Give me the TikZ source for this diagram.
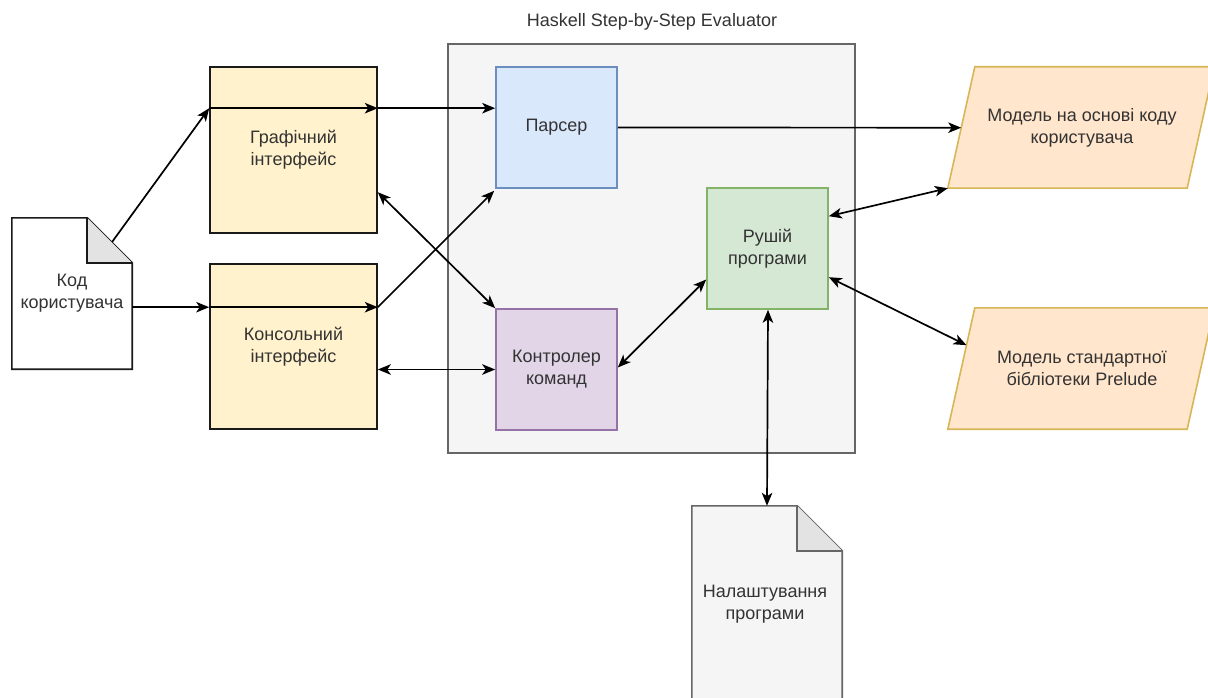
\documentclass[tikz,border=0pt]{standalone}
\usepackage{fontspec}
\setmainfont{Liberation Sans}
\usetikzlibrary{arrows.meta,calc}

\definecolor{txt}{HTML}{333333}
\definecolor{edge}{HTML}{1A1A1A}
\definecolor{contfill}{HTML}{F5F5F5}
\definecolor{contline}{HTML}{666666}
\definecolor{yelfill}{HTML}{FFF2CC}
\definecolor{bluefill}{HTML}{DAE8FC}
\definecolor{blueline}{HTML}{6C8EBF}
\definecolor{purpfill}{HTML}{E1D5E7}
\definecolor{purpline}{HTML}{9673A6}
\definecolor{greenfill}{HTML}{D5E8D4}
\definecolor{greenline}{HTML}{82B366}
\definecolor{orfill}{HTML}{FFE6CC}
\definecolor{orline}{HTML}{D6B656}
\definecolor{foldgray}{HTML}{E3E3E3}

\begin{document}
\begin{tikzpicture}[x=1pt,y=-1pt,
  >={Stealth[length=13pt,width=10.5pt,inset=3.5pt]},
  lbl/.style={font=\fontsize{18}{22}\selectfont, text=txt, align=center},
  box/.style={lbl, draw, line width=1.6pt, inner sep=0pt,
              minimum width=121pt, minimum height=121pt},
  yelbox/.style={box, fill=yelfill, draw=edge, minimum width=167pt},
  area/.style={lbl, inner sep=0pt, draw=none},
  flow/.style={draw=black, line width=1.7pt, ->},
  twoway/.style={draw=black, line width=1.7pt, <->},
]
\useasboundingbox (0,0) rectangle (1208,698);
\clip (0,0) rectangle (1208,698);
\fill[white] (0,0) rectangle (1208,698);

% evaluator container and its title
\draw[fill=contfill, draw=contline, line width=1.6pt] (448,44) rectangle (855,453);
\node[lbl] (title) at (652,22) {Haskell Step-by-Step Evaluator};

% user-facing interfaces
\node[yelbox, minimum height=166pt] (gui) at (293.5,150) {Графічний\\інтерфейс};
\node[yelbox, minimum height=165pt] (cli) at (293.5,346.5) {Консольний\\інтерфейс};

% core components
\node[box, fill=bluefill, draw=blueline] (parser) at (556.5,127.5) {Парсер};
\node[box, fill=purpfill, draw=purpline] (ctrl) at (556.5,369.5) {Контролер\\команд};
\node[box, fill=greenfill, draw=greenline] (engine) at (767.5,248.5) {Рушій\\програми};

% data models (parallelograms)
\node[area, minimum width=264pt, minimum height=121pt] (m1) at (1080,127.5) {};
\node[area, minimum width=264pt, minimum height=121pt] (m2) at (1080,368.5) {};
\foreach \m in {m1,m2}{
  \draw[fill=orfill, draw=orline, line width=1.6pt]
    (\m.south west) -- ($(\m.north west)+(27,0)$) -- ($(\m.north east)+(2,0)$)
    -- ($(\m.south east)+(-25,0)$) -- cycle;
}
\node[area] (m1text) at ($(m1)+(2,0)$) {Модель на основі коду\\користувача};
\node[area] (m2text) at ($(m2)+(2,0)$) {Модель стандартної\\бібліотеки Prelude};

% documents
\node[area, minimum width=120pt, minimum height=151pt] (code) at (72,293.5) {};
\draw[fill=white, draw=edge, line width=1.6pt]
  (code.north west) -- ($(code.north east)+(-45,0)$) -- ($(code.north east)+(0,45)$)
  -- (code.south east) -- (code.south west) -- cycle;
\draw[fill=foldgray, draw=edge, line width=1.6pt]
  ($(code.north east)+(-45,0)$) -- ($(code.north east)+(-45,45)$) -- ($(code.north east)+(0,45)$);
\node[area] (codetext) at (code) {Код\\користувача};

\node[area, minimum width=150pt, minimum height=196pt] (cfg) at (767,604) {};
\draw[fill=contfill, draw=contline, line width=1.6pt]
  (cfg.north west) -- ($(cfg.north east)+(-45,0)$) -- ($(cfg.north east)+(0,45)$)
  -- (cfg.south east) -- (cfg.south west) -- cycle;
\draw[fill=foldgray, draw=contline, line width=1.6pt]
  ($(cfg.north east)+(-45,0)$) -- ($(cfg.north east)+(-45,45)$) -- ($(cfg.north east)+(0,45)$);
\node[area] (cfgtext) at ($(cfg)+(-2,0)$) {Налаштування\\програми};

% connector end points
\coordinate (codeFold) at ($(code.north east)+(-20,24)$);
\coordinate (guiIn)  at ($(gui.north west)+(0,42)$);
\coordinate (guiOut) at ($(gui.north east)+(0,42)$);
\coordinate (guiLow) at ($(gui.north east)+(0,126)$);
\coordinate (cliIn)  at ($(cli.north west)+(0,44)$);
\coordinate (cliOut) at ($(cli.north east)+(0,44)$);
\coordinate (m1Left) at ($(m1.south west)+(13.4,-60.5)$);
\coordinate (m2Left) at ($(m2.south west)+(18.7,-84)$);

% connectors
\draw[flow] (codeFold) -- (guiIn);
\draw[flow] (guiIn) -- (guiOut);
\draw[flow] (guiOut) -- (parser.west |- guiOut);
\draw[flow] (code.east |- cliIn) -- (cliIn);
\draw[flow] (cliIn) -- (cliOut);
\draw[flow] (cliOut) -- ($(parser.south west)+(-1,2)$);
\draw[twoway] (guiLow) -- (ctrl.north west);
\draw[twoway] (cli.east |- ctrl.west) -- (ctrl.west);
\draw[twoway] ($(ctrl.east)+(0,-2)$) -- ($(engine.west)+(0,31)$);
\draw[flow] (parser.east) -- (m1Left);
\draw[twoway] ($(engine.north east)+(0,29)$) -- (m1.south west);
\draw[twoway] ($(engine.north east)+(0,90)$) -- (m2Left);
\draw[twoway] ($(engine.south)+(0.5,0)$) -- (cfg.north);
\end{tikzpicture}
\end{document}
